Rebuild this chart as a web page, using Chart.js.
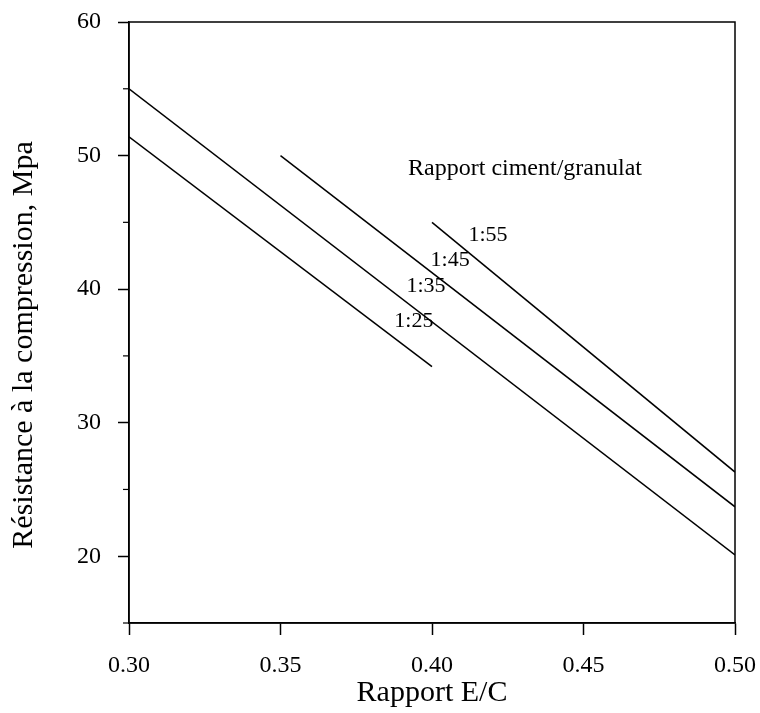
<!DOCTYPE html>
<html>
<head>
<meta charset="utf-8">
<script src="https://cdn.jsdelivr.net/npm/chart.js@4/dist/chart.umd.min.js"></script>
<style>
  body { margin: 0; background: #fff; }
  #chart { display: block; }
</style>
</head>
<body>
<canvas id="chart" width="760" height="713"></canvas>
<script>
// ciment/granulat ratios and the E/C - strength lines
var ratios = ["1:25", "1:35", "1:45", "1:55"];
var ec25 = [0.30, 0.40];
var mpa25 = [51.4, 34.2];
var ec35 = [0.30, 0.50];
var mpa35 = [55.0, 20.1];
var ec45 = [0.35, 0.50];
var mpa45 = [50.0, 23.7];
var ec55 = [0.40, 0.50];
var mpa55 = [45.0, 26.3];

// where the ratio labels sit (E/C, MPa)
var labelEc = [0.394, 0.398, 0.406, 0.4185];
var labelMpa = [37.6, 40.2, 42.2, 44.0];
var noteText = "Rapport ciment/granulat";
var noteEc = 0.4307;
var noteMpa = 49.0;

var font = "'Liberation Serif', 'Times New Roman', serif";

function pts(xs, ys) {
  var out = [];
  for (var i = 0; i < xs.length; i++) out.push({x: xs[i], y: ys[i]});
  return out;
}

function line(label, xs, ys) {
  return {
    label: label,
    data: pts(xs, ys),
    showLine: true,
    borderColor: "#000",
    borderWidth: 1.5,
    pointRadius: 0,
    fill: false
  };
}

var frameAndText = {
  id: "frameAndText",
  afterDraw: function(chart) {
    var ctx = chart.ctx;
    var a = chart.chartArea;
    var xs = chart.scales.x, ys = chart.scales.y;
    ctx.save();
    ctx.strokeStyle = "#000";
    ctx.lineWidth = 1.5;
    ctx.strokeRect(a.left, a.top, a.right - a.left, a.bottom - a.top);

    // short minor ticks on the y axis
    ctx.lineWidth = 1.2;
    ys.ticks.forEach(function(t, i) {
      if (t.value % 10 !== 0) {
        var py = ys.getPixelForTick(i);
        ctx.beginPath();
        ctx.moveTo(a.left - 6, py);
        ctx.lineTo(a.left, py);
        ctx.stroke();
      }
    });

    ctx.fillStyle = "#000";
    ctx.textAlign = "center";
    ctx.textBaseline = "middle";
    ctx.font = "22px " + font;
    for (var i = 0; i < ratios.length; i++) {
      ctx.fillText(ratios[i], xs.getPixelForValue(labelEc[i]), ys.getPixelForValue(labelMpa[i]));
    }
    ctx.font = "24px " + font;
    ctx.fillText(noteText, xs.getPixelForValue(noteEc), ys.getPixelForValue(noteMpa));
    ctx.restore();
  }
};

new Chart(document.getElementById("chart"), {
  type: "scatter",
  data: {
    datasets: [
      line(ratios[0], ec25, mpa25),
      line(ratios[1], ec35, mpa35),
      line(ratios[2], ec45, mpa45),
      line(ratios[3], ec55, mpa55)
    ]
  },
  options: {
    responsive: false,
    animation: false,
    layout: { padding: { left: 0, right: 25, top: 22, bottom: 0 } },
    plugins: {
      legend: { display: false },
      tooltip: { enabled: false }
    },
    scales: {
      x: {
        type: "linear",
        min: 0.30,
        max: 0.50,
        afterFit: function(axis) {
          axis.height = 90;
          axis.paddingLeft = 0;
          axis.paddingRight = 0;
        },
        ticks: {
          stepSize: 0.05,
          color: "#000",
          padding: 16,
          maxRotation: 0,
          font: { family: font, size: 24 },
          callback: function(v) { return v.toFixed(2); }
        },
        grid: { drawOnChartArea: false, tickLength: 12, tickColor: "#000", tickWidth: 1.5 },
        border: { color: "#000", width: 1.5 },
        title: {
          display: true,
          text: "Rapport E/C",
          color: "#000",
          font: { family: font, size: 30 },
          padding: { top: 0, bottom: 2 }
        }
      },
      y: {
        type: "linear",
        min: 15,
        max: 60,
        afterFit: function(axis) {
          axis.width = 129;
          axis.paddingTop = 0;
          axis.paddingBottom = 0;
        },
        ticks: {
          stepSize: 5,
          color: "#000",
          padding: 17,
          font: { family: font, size: 24 },
          callback: function(v) { return v % 10 === 0 ? v : ""; }
        },
        grid: {
          drawOnChartArea: false,
          tickLength: 11,
          tickWidth: 1.5,
          tickColor: function(c) {
            return c.tick && c.tick.value % 10 === 0 ? "#000" : "rgba(0,0,0,0)";
          }
        },
        border: { color: "#000", width: 1.5 },
        title: {
          display: true,
          // trailing spaces push the title a little lower, as in the figure
          text: "Résistance à la compression, Mpa      ",
          color: "#000",
          font: { family: font, size: 30 },
          padding: { top: 6, bottom: 0 }
        }
      }
    }
  },
  plugins: [frameAndText]
});
</script>
</body>
</html>
